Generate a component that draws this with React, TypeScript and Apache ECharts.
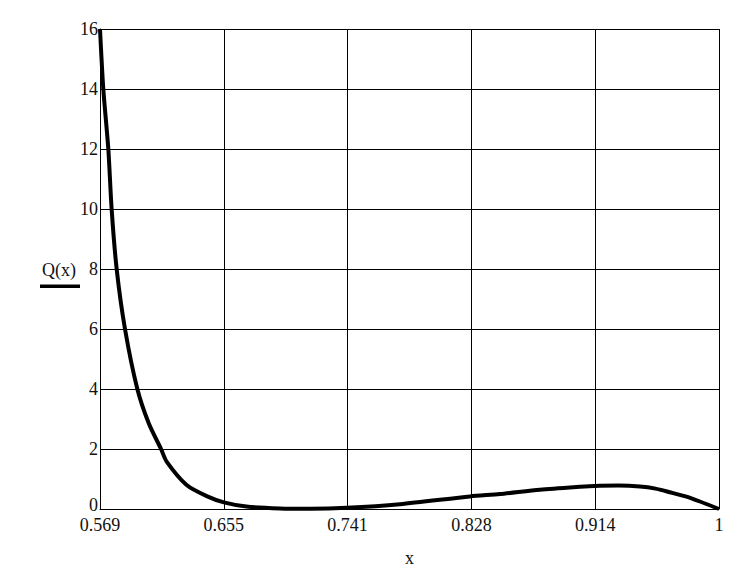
import React, { useEffect, useRef } from "react";
import * as echarts from "echarts";

// Tick labels of the x axis (5 equal steps between 0.569 and 1)
const xTickLabels = ["0.569", "0.655", "0.741", "0.828", "0.914", "1"];
const xMin = 0.569;
const xMax = 1;
const xSteps = 5;

// y axis range
const yMin = 0;
const yMax = 16;
const yStep = 2;

// Q(x) samples
const xValues = [
  0.569, 0.5713, 0.5748, 0.5771, 0.5806, 0.5864, 0.595, 0.603, 0.6115, 0.6154,
  0.6293, 0.6433, 0.6553, 0.671, 0.6943, 0.7152, 0.7409, 0.7778, 0.8266,
  0.8474, 0.8753, 0.9031, 0.9135, 0.93, 0.9449, 0.9558, 0.9658, 0.9767, 0.9867, 1.0,
];
const qValues = [
  16.0, 14.0, 12.0, 10.0, 8.0, 6.0, 4.0, 2.85, 2.0, 1.58,
  0.8, 0.43, 0.22, 0.08, 0.02, 0.01, 0.04, 0.16, 0.42,
  0.5, 0.64, 0.74, 0.77, 0.78, 0.75, 0.68, 0.56, 0.42, 0.25, 0.0,
];

const stepSize = (xMax - xMin) / xSteps;

export default function App() {
  const ref = useRef<HTMLDivElement>(null);

  useEffect(() => {
    if (!ref.current) return;
    const chart = echarts.init(ref.current, null, { renderer: "svg" });
    const data = xValues.map((x, i) => [(x - xMin) / stepSize, qValues[i]]);
    const font = "'Liberation Serif', 'DejaVu Serif', serif";
    chart.setOption({
      animation: false,
      backgroundColor: "#ffffff",
      grid: {
        left: 100,
        right: 27,
        top: 29,
        bottom: 70,
        containLabel: false,
        outerBoundsMode: "none",
      },
      xAxis: {
        type: "value",
        min: 0,
        max: xSteps,
        interval: 1,
        name: "x",
        nameLocation: "middle",
        nameGap: 40,
        nameTextStyle: { fontFamily: font, fontSize: 18, color: "#111" },
        axisLine: { show: true, lineStyle: { color: "#000", width: 1 } },
        axisTick: { show: false },
        splitLine: { show: true, lineStyle: { color: "#000", width: 1 } },
        axisLabel: {
          margin: 8,
          fontFamily: font,
          fontSize: 18,
          lineHeight: 16,
          color: "#111",
          formatter: (v: number) => xTickLabels[Math.round(v)] ?? "",
        },
      },
      yAxis: {
        type: "value",
        min: yMin,
        max: yMax,
        interval: yStep,
        axisLine: { show: true, lineStyle: { color: "#000", width: 1 } },
        axisTick: { show: false },
        splitLine: { show: true, lineStyle: { color: "#000", width: 1 } },
        axisLabel: {
          margin: 2,
          fontFamily: font,
          fontSize: 18,
          color: "#111",
          lineHeight: 12,
          formatter: (v: number) => (v === yMin ? "{z|" + v + "}" : String(v)),
          rich: {
            z: {
              fontFamily: font,
              fontSize: 18,
              color: "#111",
              lineHeight: 12,
              padding: [0, 0, 8, 0],
            },
          },
        },
      },
      graphic: [
        {
          type: "text",
          x: 42,
          y: 270,
          style: {
            text: "Q(x)",
            fontFamily: font,
            fontSize: 18,
            fill: "#111",
            verticalAlign: "middle",
          },
        },
        {
          type: "rect",
          shape: { x: 40, y: 284.5, width: 40, height: 3.5 },
          style: { fill: "#000" },
        },
      ],
      series: [
        {
          type: "line",
          data,
          smooth: 0.25,
          showSymbol: false,
          clip: true,
          lineStyle: { color: "#000", width: 4 },
        },
      ],
    });
    return () => chart.dispose();
  }, []);

  return (
    <div
      ref={ref}
      style={{ position: "fixed", left: 0, top: 0, width: 746, height: 579, background: "#fff" }}
    />
  );
}
